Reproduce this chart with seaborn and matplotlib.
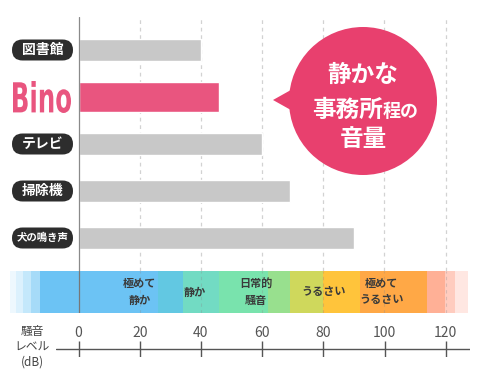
import numpy as np
import pandas as pd
import matplotlib
matplotlib.use('Agg')
import matplotlib.pyplot as plt
import seaborn as sns
from matplotlib.patches import FancyBboxPatch, Circle, Polygon, PathPatch
from matplotlib.textpath import TextPath
from matplotlib.font_manager import FontProperties
from matplotlib.transforms import Affine2D

# data
items = ['図書館', 'Bino', 'テレビ', '掃除機', '犬の鳴き声']
db_values = [40, 46, 60, 69, 90]
highlight = 'Bino'

db_ticks = [0, 20, 40, 60, 80, 100, 120]

band_edges = [-22.3, -20.3, -18, -15.4, -12.5, 26, 34, 46, 62, 69, 80, 92, 114, 119.7, 123, 127.2]
band_colors = ['#eef8fe', '#dcf1fd', '#c4e8fb', '#a6dbf8', '#6cc3f4', '#62c8e2', '#72dbc3',
               '#79e3ad', '#98e08e', '#cfd85c', '#ffc43b', '#ffa846', '#ffb096', '#ffccbf', '#ffe7e2']
band_labels = ['極めて\n静か', '静か', '日常的\n騒音', 'うるさい', '極めて\nうるさい']
band_label_db = [20, 38, 58, 80, 99]

# layout helpers (pixels)
W, H = 480, 378
X0, S = 78.5, 3.06

def frac(l, t, r, b):
    return [l / W, 1 - b / H, (r - l) / W, (b - t) / H]

def xl(l, r):
    return ((l - X0) / S, (r - X0) / S)

sns.set_style('white')
plt.rcParams['font.family'] = ['Noto Sans CJK JP', 'DejaVu Sans']

fig = plt.figure(figsize=(W / 100, H / 100), dpi=100)

##########################################################################
# bars
BAR_T, BAR_B = 17, 271
ax = fig.add_axes(frac(0, BAR_T, W, BAR_B))
ax.patch.set_visible(False)
df = pd.DataFrame({'item': items, 'db': db_values})
gray = df[df['item'] != highlight]
pink = df[df['item'] == highlight]
sns.barplot(data=gray, x='db', y='item', order=items, orient='h', width=0.45,
            color='#c8c8c8', saturation=1, errorbar=None, ax=ax, zorder=3)
sns.barplot(data=pink, x='db', y='item', order=items, orient='h', width=0.62,
            color='#e9557f', saturation=1, errorbar=None, ax=ax, zorder=3)
y_top, y_bot = -0.702, 4.702
ax.set_ylim(y_bot, y_top)
ax.set_xlim(*xl(0, W))
ax.vlines(db_ticks[1:], y_bot, y_top, colors='#d2d2d2', linestyles=(0, (3, 3)), lw=0.9, zorder=1)
ax.axvline(0, color='#8a8a8a', lw=0.9, zorder=4)
ax.set_axis_off()

def row_px(i):
    return BAR_T + (i - y_top) / (y_bot - y_top) * (BAR_B - BAR_T)

##########################################################################
# noise level band
bx = fig.add_axes(frac(0, 271, W, 313))
bx.barh(0, np.diff(band_edges), left=band_edges[:-1], height=1, color=band_colors, lw=0)
bx.set_xlim(*xl(0, W))
bx.set_ylim(-0.5, 0.5)
bx.vlines(db_ticks[1:], -0.5, 0.5, colors='#888888', linestyles=(0, (3, 3)), lw=0.8, alpha=0.3)
bx.axvline(0, color='#777777', lw=0.9)
for lab, pos in zip(band_labels, band_label_db):
    bx.text(pos, 0, lab, ha='center', va='center', fontsize=8, fontweight='bold',
            color='#3a3a3a', linespacing=1.3)
bx.set_axis_off()

##########################################################################
# scale below
tx = fig.add_axes(frac(56, 341, 470, 357))
tx.set_xlim(*xl(56, 470))
tx.set_ylim(-1, 1)
tx.axhline(0, color='#555555', lw=1)
tx.vlines(db_ticks, -1, 1, colors='#555555', lw=1)
for t in db_ticks:
    tx.text(t, 2.0, str(t), ha='center', va='center', fontsize=10, color='#555555', clip_on=False)
tx.set_axis_off()

##########################################################################
# overlay: labels and speech bubble
ov = fig.add_axes([0, 0, 1, 1])
ov.set_xlim(0, W)
ov.set_ylim(H, 0)
ov.set_axis_off()
ov.patch.set_visible(False)

for i, name in enumerate(items):
    y = row_px(i)
    if name == highlight:
        tp = TextPath((0, 0), name, size=1, prop=FontProperties(family='DejaVu Sans', weight='bold'))
        bb = tp.get_extents()
        tr = Affine2D().translate(-bb.x0, -bb.y0).scale(58 / bb.width, -32 / bb.height).translate(13, y + 16)
        ov.add_patch(PathPatch(tr.transform_path(tp), fc='#e9557f', ec='none'))
    else:
        ov.add_patch(FancyBboxPatch((12, y - 10.5), 61, 21, boxstyle='round,pad=0,rounding_size=10.5',
                                    fc='#2d2d2d', ec='none'))
        ov.text(42.5, y, name, ha='center', va='center', color='white', fontweight='bold',
                fontsize=10 if len(name) <= 3 else 7.5)

ov.text(32, 347, '騒音\nレベル\n(dB)', ha='center', va='center', fontsize=8.5, color='#444444',
        linespacing=1.25)

ov.add_patch(Circle((363, 101), 74, fc='#e8406e', ec='none'))
ov.add_patch(Polygon([(273, 100), (298, 86), (298, 114)], closed=True, fc='#e8406e', ec='none'))
ov.text(363, 75, '静かな', ha='center', va='center', color='white', fontsize=17, fontweight='bold')
ov.text(383, 117, '事務所', ha='right', va='baseline', color='white', fontsize=17, fontweight='bold')
ov.text(383, 117, '程の', ha='left', va='baseline', color='white', fontsize=13, fontweight='bold')
ov.text(363, 139, '音量', ha='center', va='center', color='white', fontsize=17, fontweight='bold')

fig.savefig('out.png', dpi=100)
